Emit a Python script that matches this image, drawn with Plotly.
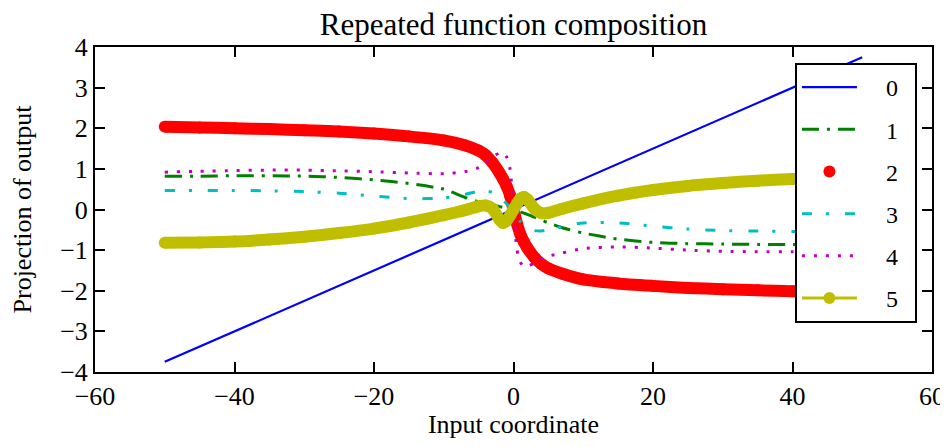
import plotly.graph_objects as go

# values
x_line = [-50, 50]
y_line = [-3.75, 3.75]

x_pts = [-50, -45, -40, -35, -30, -25, -20, -15, -10, -7, -5, -4, -3, -2, -1.5, -1, -0.5,
         0, 0.5, 1, 1.5, 2, 3, 4, 5, 7, 10, 15, 20, 25, 30, 35, 40, 45, 50]

y_one = [0.82, 0.82, 0.83, 0.83, 0.82, 0.79, 0.73, 0.64, 0.50, 0.30, 0.19, 0.15, 0.11, 0.07, 0.05, 0.03, 0.01,
         0.0, -0.03, -0.06, -0.09, -0.12, -0.19, -0.26, -0.33, -0.45, -0.58, -0.73, -0.81, -0.84, -0.85, -0.86, -0.86, -0.86, -0.86]

y_two = [2.04, 2.02, 2.00, 1.98, 1.95, 1.92, 1.87, 1.80, 1.70, 1.58, 1.45, 1.34, 1.15, 0.90, 0.75, 0.58, 0.35,
         0.0, -0.35, -0.62, -0.80, -0.95, -1.18, -1.34, -1.45, -1.58, -1.72, -1.82, -1.88, -1.93, -1.96, -1.99, -2.01, -2.03, -2.05]

y_three = [0.47, 0.47, 0.47, 0.46, 0.44, 0.40, 0.33, 0.27, 0.28, 0.37, 0.45, 0.46, 0.42, 0.32, 0.24, 0.14, 0.04,
           -0.06, -0.16, -0.30, -0.40, -0.46, -0.52, -0.53, -0.50, -0.42, -0.33, -0.33, -0.41, -0.48, -0.52, -0.53, -0.54, -0.54, -0.54]

y_four = [0.92, 0.94, 0.96, 0.97, 0.97, 0.95, 0.93, 0.90, 0.88, 0.93, 1.03, 1.15, 1.30, 1.39, 1.40, 1.30, 1.00,
          0.0, -1.00, -1.30, -1.41, -1.40, -1.32, -1.22, -1.15, -1.07, -0.96, -0.92, -0.95, -1.00, -1.03, -1.04, -1.04, -1.03, -1.02]

y_five = [-0.82, -0.81, -0.79, -0.74, -0.67, -0.58, -0.47, -0.32, -0.14, -0.02, 0.08, 0.10, 0.02, -0.25, -0.33, -0.28, -0.15,
          0.0, 0.15, 0.27, 0.31, 0.25, 0.02, -0.09, -0.08, 0.02, 0.15, 0.34, 0.48, 0.58, 0.65, 0.71, 0.75, 0.78, 0.80]

x_ticks = [-60, -40, -20, 0, 20, 40, 60]
y_ticks = [-4, -3, -2, -1, 0, 1, 2, 3, 4]
labels = ["0", "1", "2", "3", "4", "5"]

serif = "Liberation Serif"
pad = "\u00a0" * 4
tail = "\u00a0" * 2


def legend_name(i):
    return pad + labels[i] + tail


spline = dict(shape="spline", smoothing=0.6)

fig = go.Figure()

fig.add_trace(go.Scatter(x=x_line, y=y_line, mode="lines", name=legend_name(0), legendgroup="0",
                         line=dict(color="#0000ff", width=2.2)))
fig.add_trace(go.Scatter(x=x_pts, y=y_one, mode="lines", name=legend_name(1), legendgroup="1",
                         line=dict(color="#008000", width=3, dash="17px,8px,3px,8px", **spline)))
# red band: thick line under the markers so the dense dots read as a ribbon
fig.add_trace(go.Scatter(x=x_pts, y=y_two, mode="lines", showlegend=False, legendgroup="2", hoverinfo="skip",
                         line=dict(color="#ff0000", width=12, **spline)))
fig.add_trace(go.Scatter(x=x_pts, y=y_two, mode="markers", name=legend_name(2), legendgroup="2",
                         marker=dict(color="#ff0000", size=12)))
fig.add_trace(go.Scatter(x=x_pts, y=y_three, mode="lines", name=legend_name(3), legendgroup="3",
                         line=dict(color="#00bfbf", width=3, dash="10px,14px,3px,16px", **spline)))
fig.add_trace(go.Scatter(x=x_pts, y=y_four, mode="lines", name=legend_name(4), legendgroup="4",
                         line=dict(color="#bf00bf", width=3, dash="3px,9px", **spline)))
# yellow band, plus a thin line with markers on top for the legend entry
fig.add_trace(go.Scatter(x=x_pts, y=y_five, mode="lines", showlegend=False, legendgroup="5", hoverinfo="skip",
                         line=dict(color="#bfbf00", width=12, **spline)))
fig.add_trace(go.Scatter(x=x_pts, y=y_five, mode="lines+markers", name=legend_name(5), legendgroup="5",
                         line=dict(color="#bfbf00", width=3, **spline),
                         marker=dict(color="#bfbf00", size=12)))

axis_style = dict(
    showline=True, linecolor="black", linewidth=2, mirror="ticks",
    ticks="inside", ticklen=10, tickwidth=1.5, tickcolor="black",
    showgrid=False, zeroline=False, automargin=False, ticklabeloverflow="allow",
    tickfont=dict(family=serif, size=26, color="black"),
)

# the page adds an 8px body margin, so the figure is shifted 8px
fig.update_layout(
    width=940,
    height=431,
    plot_bgcolor="white",
    paper_bgcolor="white",
    margin=dict(t=39, r=16, b=67, l=87),
    title=dict(text="Repeated function composition", x=0.5, xref="paper", xanchor="center",
               y=1.0, yref="container", yanchor="top", pad=dict(t=5),
               font=dict(family=serif, size=31, color="black")),
    xaxis=dict(range=[-60, 60], tickvals=x_ticks,
               title=dict(text="Input coordinate", font=dict(family=serif, size=26, color="black"), standoff=12),
               **axis_style),
    yaxis=dict(range=[-4, 4], tickvals=y_ticks,
               title=dict(text="Projection of output", font=dict(family=serif, size=26, color="black"), standoff=22),
               **axis_style),
    legend=dict(x=0.982, y=0.951, xanchor="right", yanchor="top",
                bgcolor="white", bordercolor="black", borderwidth=2,
                font=dict(family=serif, size=24, color="black"),
                itemwidth=55, tracegroupgap=8),
    showlegend=True,
)

fig.write_html("out.html")
